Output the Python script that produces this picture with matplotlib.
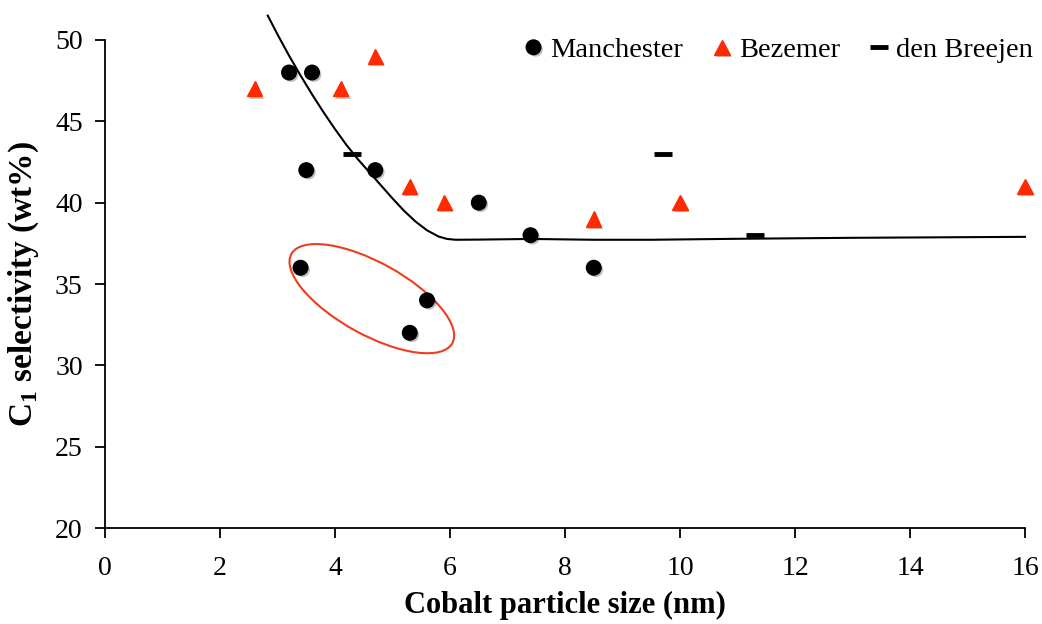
import numpy as np
import matplotlib
matplotlib.use("Agg")
import matplotlib.pyplot as plt
import matplotlib.patheffects as pe
from matplotlib.patches import Ellipse
from matplotlib.transforms import ScaledTranslation

plt.rcParams['font.family'] = ['Liberation Serif', 'DejaVu Serif']
plt.rcParams['mathtext.fontset'] = 'custom'
plt.rcParams['mathtext.rm'] = 'Liberation Serif'
plt.rcParams['mathtext.bf'] = 'Liberation Serif:bold'

# data
man_x = [3.2, 3.6, 3.5, 4.7, 6.5, 7.4, 8.5, 3.4, 5.6, 5.3]
man_y = [48, 48, 42, 42, 40, 38, 36, 36, 34, 32]
bez_x = [2.6, 4.1, 4.7, 5.3, 5.9, 8.5, 10.0, 16.0]
bez_y = [47, 47, 49, 41, 40, 39, 40, 41]
bre_x = [4.3, 9.7, 11.3]
bre_y = [43, 43, 38]
# trend curve
fit_x = [2.83, 3.0, 3.2, 3.4, 3.6, 3.8, 4.0, 4.2, 4.4, 4.6, 4.8, 5.0, 5.2, 5.4,
         5.6, 5.8, 5.95, 6.1, 6.5, 7.4, 8.5, 9.5, 11.0, 13.0, 16.0]
fit_y = [51.5, 50.34, 49.04, 47.82, 46.66, 45.56, 44.52, 43.54, 42.66, 41.86, 41.06, 40.26,
         39.5, 38.84, 38.3, 37.92, 37.77, 37.72, 37.73, 37.77, 37.72, 37.72, 37.78, 37.84, 37.9]

red = '#FF2A00'
shadow = [pe.SimplePatchShadow(offset=(1.5, -1.5), alpha=0.25), pe.Normal()]

fig = plt.figure(figsize=(10.42, 6.24), dpi=100)
ax = fig.add_axes([0.1008, 0.1538, 0.8829, 0.7821])

ax.plot(fit_x, fit_y, color='black', lw=1.5, clip_on=False)
ax.plot(man_x, man_y, 'o', color='black', ms=10.5, label='Manchester', path_effects=shadow)
ax.plot(bez_x, bez_y, '^', color=red, ms=11, label='Bezemer', clip_on=False, path_effects=shadow)
ax.plot(bre_x, bre_y, '_', color='black', ms=13.5, mew=3.5, label='den Breejen')

# ellipse around the low points (size in inches)
ell = Ellipse((0, 0), 1.84, 0.72, angle=-29, fill=False, edgecolor='#F03C1E', lw=1.5,
              transform=fig.dpi_scale_trans + ScaledTranslation(4.64, 34.1, ax.transData))
ax.add_patch(ell)

ax.set_xlim(0, 16)
ax.set_ylim(20, 50)
ax.set_xticks(np.arange(0, 17, 2))
ax.set_yticks(np.arange(20, 51, 5))
ax.spines['top'].set_visible(False)
ax.spines['right'].set_visible(False)
ax.spines['left'].set_linewidth(1.3)
ax.spines['bottom'].set_linewidth(1.3)
ax.tick_params(labelsize=20, length=7, width=1.3)
ax.tick_params(axis='x', pad=13)
ax.tick_params(axis='y', pad=9)

ax.set_xlabel('Cobalt particle size (nm)', fontsize=22, fontweight='bold', labelpad=7)
ax.set_ylabel(r'C$_\mathbf{1}$ selectivity (wt%)', fontsize=24, fontweight='bold', labelpad=10)

ax.legend(loc='upper right', bbox_to_anchor=(1.036, 1.058), ncol=3, frameon=False, fontsize=20.5,
          handletextpad=0.1, columnspacing=0.85, handlelength=1.0, numpoints=1)

plt.savefig('out.png', dpi=100)
